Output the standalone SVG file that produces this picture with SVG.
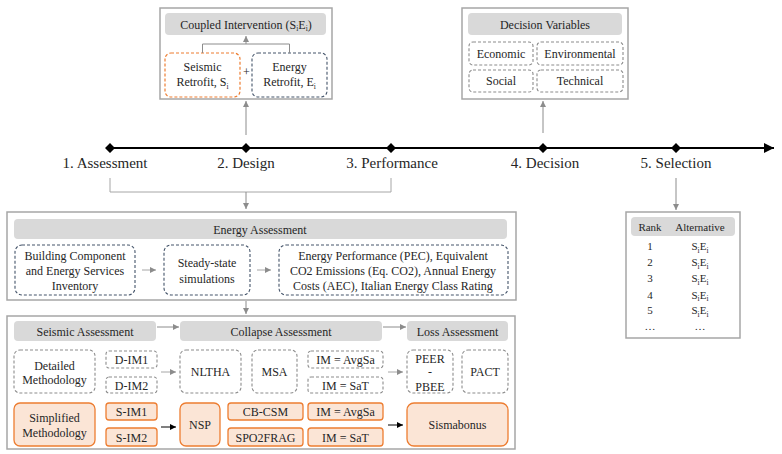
<svg xmlns="http://www.w3.org/2000/svg" width="782" height="454" viewBox="0 0 782 454">
  <style>
    text { fill: #262626; text-anchor: middle; }
    .t12 { font-size: 12px; }
    .t11 { font-size: 11px; }
    .t15 { font-size: 15px; }
    .sub { font-size: 7.5px; }
    .panel { fill: #ffffff; stroke: #a6a6a6; stroke-width: 1.5; }
    .bar { fill: #d9d9d9; stroke: none; }
    .dg { fill: #ffffff; stroke: #8c8c8c; stroke-width: 1.1; stroke-dasharray: 3 2; }
    .db { fill: #ffffff; stroke: #44546a; stroke-width: 1.1; stroke-dasharray: 3 2; }
    .do { fill: #ffffff; stroke: #ed7d31; stroke-width: 1.2; stroke-dasharray: 3 2; }
    .so { fill: #fbe5d6; stroke: #ed7d31; stroke-width: 1.3; }
    .cg { fill: none; stroke: #8c8c8c; stroke-width: 1; }
    .cgl { fill: none; stroke: #a6a6a6; stroke-width: 1; }
    .ck { fill: none; stroke: #000000; stroke-width: 1; }
  </style>
  <defs>
    <marker id="ag" markerUnits="userSpaceOnUse" markerWidth="8" markerHeight="8" refX="6" refY="3" orient="auto">
      <path d="M0,0 L6,3 L0,6 Z" fill="#8c8c8c"/>
    </marker>
    <marker id="ak" markerUnits="userSpaceOnUse" markerWidth="8" markerHeight="8" refX="6" refY="3" orient="auto">
      <path d="M0,0 L6,3 L0,6 Z" fill="#000000"/>
    </marker>
    <marker id="aline" markerUnits="userSpaceOnUse" markerWidth="14" markerHeight="14" refX="10" refY="5" orient="auto">
      <path d="M0,0 L10,5 L0,10 Z" fill="#000000"/>
    </marker>
  </defs>

  <g font-family="'Liberation Serif', 'Times New Roman', 'DejaVu Serif', serif">
  <!-- timeline -->
  <g id="timeline">
    <line x1="110" y1="148" x2="774" y2="148" stroke="#000" stroke-width="2" marker-end="url(#aline)"/>
    <path d="M110,143 L115,148 L110,153 L105,148 Z M246,143 L251,148 L246,153 L241,148 Z M391,143 L396,148 L391,153 L386,148 Z M543,143 L548,148 L543,153 L538,148 Z M676,143 L681,148 L676,153 L671,148 Z" fill="#000"/>
    <text class="t15" x="105" y="168">1. Assessment</text>
    <text class="t15" x="246" y="168">2. Design</text>
    <text class="t15" x="392" y="168">3. Performance</text>
    <text class="t15" x="545" y="168">4. Decision</text>
    <text class="t15" x="676" y="168">5. Selection</text>
  </g>

  <!-- coupled intervention -->
  <g id="coupled">
    <rect class="panel" x="160" y="8" width="172" height="91"/>
    <rect class="bar" x="165" y="13" width="161" height="22" rx="4"/>
    <text class="t12" x="246" y="28.5">Coupled Intervention (S<tspan class="sub" dy="2.5">i</tspan><tspan dy="-2.5">E</tspan><tspan class="sub" dy="2.5">i</tspan><tspan dy="-2.5">)</tspan></text>
  </g>
  <g id="seismic-retrofit">
    <rect class="do" x="165" y="53" width="75" height="44" rx="6"/>
    <text class="t12" x="202.5" y="71">Seismic</text>
    <text class="t12" x="202.5" y="86">Retrofit, S<tspan class="sub" dy="2.5">i</tspan></text>
  </g>
  <g id="energy-retrofit">
    <rect class="db" x="252" y="53" width="75" height="44" rx="6"/>
    <text class="t12" x="289.5" y="71">Energy</text>
    <text class="t12" x="289.5" y="86">Retrofit, E<tspan class="sub" dy="2.5">i</tspan></text>
  </g>
  <text class="t12" x="246.5" y="76">+</text>

  <!-- decision variables -->
  <g id="decision">
    <rect class="panel" x="462" y="8" width="166" height="91"/>
    <rect class="bar" x="468" y="13" width="154" height="22" rx="4"/>
    <text class="t12" x="545" y="28.5">Decision Variables</text>
  </g>
  <g id="economic">
    <rect class="dg" x="469" y="42" width="64" height="23" rx="4"/>
    <text class="t12" x="501" y="57.5">Economic</text>
  </g>
  <g id="environmental">
    <rect class="dg" x="537" y="42" width="86" height="23" rx="4"/>
    <text class="t12" x="580" y="57.5">Environmental</text>
  </g>
  <g id="social">
    <rect class="dg" x="469" y="70" width="64" height="22" rx="4"/>
    <text class="t12" x="501" y="85">Social</text>
  </g>
  <g id="technical">
    <rect class="dg" x="537" y="70" width="86" height="22" rx="4"/>
    <text class="t12" x="580" y="85">Technical</text>
  </g>

  <!-- ranking table -->
  <g id="ranking">
    <rect class="panel" x="626" y="212" width="114" height="126"/>
    <rect class="bar" x="631" y="217" width="104" height="19" rx="4"/>
    <text class="t11" x="650" y="230.5">Rank</text>
    <text class="t11" x="700" y="230.5">Alternative</text>
    <g class="t11">
      <text x="650" y="250">1</text>
      <text x="650" y="266">2</text>
      <text x="650" y="282">3</text>
      <text x="650" y="298.5">4</text>
      <text x="650" y="314">5</text>
      <text x="650" y="330">…</text>
      <text x="700" y="330">…</text>
      <text x="700" y="250">S<tspan class="sub" dy="2.5">i</tspan><tspan dy="-2.5">E</tspan><tspan class="sub" dy="2.5">i</tspan></text>
      <text x="700" y="266">S<tspan class="sub" dy="2.5">i</tspan><tspan dy="-2.5">E</tspan><tspan class="sub" dy="2.5">i</tspan></text>
      <text x="700" y="282">S<tspan class="sub" dy="2.5">i</tspan><tspan dy="-2.5">E</tspan><tspan class="sub" dy="2.5">i</tspan></text>
      <text x="700" y="298.5">S<tspan class="sub" dy="2.5">i</tspan><tspan dy="-2.5">E</tspan><tspan class="sub" dy="2.5">i</tspan></text>
      <text x="700" y="314">S<tspan class="sub" dy="2.5">i</tspan><tspan dy="-2.5">E</tspan><tspan class="sub" dy="2.5">i</tspan></text>
    </g>
  </g>

  <!-- energy assessment -->
  <g id="energy-assessment">
    <rect class="panel" x="7" y="212" width="509" height="88"/>
    <rect class="bar" x="14" y="219" width="493" height="20" rx="4"/>
    <text class="t12" x="260" y="233.5">Energy Assessment</text>
  </g>
  <g id="inventory">
    <rect class="db" x="15" y="245" width="120" height="50" rx="7"/>
    <text class="t12" x="75" y="259.5">Building Component</text>
    <text class="t12" x="75" y="274.5">and Energy Services</text>
    <text class="t12" x="75" y="289.5">Inventory</text>
  </g>
  <g id="simulations">
    <rect class="db" x="164" y="245" width="86" height="50" rx="7"/>
    <text class="t12" x="207" y="266.5">Steady-state</text>
    <text class="t12" x="207" y="282.5">simulations</text>
  </g>
  <g id="energy-outputs">
    <rect class="db" x="279" y="245" width="229" height="50" rx="7"/>
    <text class="t12" x="393" y="259.5">Energy Performance (PEC), Equivalent</text>
    <text class="t12" x="393" y="274.5">CO2 Emissions (Eq. CO2), Annual Energy</text>
    <text class="t12" x="393" y="289.5">Costs (AEC), Italian Energy Class Rating</text>
  </g>

  <!-- seismic / collapse / loss assessment -->
  <g id="seismic-assessment">
    <rect class="panel" x="7" y="316" width="508" height="133"/>
    <rect class="bar" x="14" y="321" width="142" height="20" rx="4"/>
    <text class="t12" x="85" y="335.5">Seismic Assessment</text>
  </g>
  <g id="collapse-assessment">
    <rect class="bar" x="180" y="321" width="202" height="20" rx="4"/>
    <text class="t12" x="281" y="335.5">Collapse Assessment</text>
  </g>
  <g id="loss-assessment">
    <rect class="bar" x="407" y="321" width="101" height="20" rx="4"/>
    <text class="t12" x="457.5" y="335.5">Loss Assessment</text>
  </g>

  <g id="detailed">
    <rect class="dg" x="14" y="350" width="81" height="43" rx="6"/>
    <text class="t12" x="54.5" y="369.5">Detailed</text>
    <text class="t12" x="54.5" y="383.5">Methodology</text>
  </g>
  <g id="d-im1">
    <rect class="dg" x="106" y="351" width="51" height="17" rx="3"/>
    <text class="t12" x="131.5" y="364">D-IM1</text>
  </g>
  <g id="d-im2">
    <rect class="dg" x="106" y="377" width="51" height="16" rx="3"/>
    <text class="t12" x="131.5" y="389.5">D-IM2</text>
  </g>
  <g id="nltha">
    <rect class="dg" x="180" y="350" width="61" height="43" rx="6"/>
    <text class="t12" x="210.5" y="376">NLTHA</text>
  </g>
  <g id="msa">
    <rect class="dg" x="252" y="350" width="45" height="43" rx="6"/>
    <text class="t12" x="274.5" y="376">MSA</text>
  </g>
  <g id="im-avgsa-d">
    <rect class="dg" x="308" y="351" width="75" height="17" rx="3"/>
    <text class="t12" x="345.5" y="364">IM = AvgSa</text>
  </g>
  <g id="im-sat-d">
    <rect class="dg" x="308" y="377" width="75" height="16" rx="3"/>
    <text class="t12" x="345.5" y="389.5">IM = SaT</text>
  </g>
  <g id="peer-pbee">
    <rect class="dg" x="407" y="350" width="46" height="43" rx="6"/>
    <text class="t12" x="430" y="362.5">PEER</text>
    <text class="t12" x="430" y="376">-</text>
    <text class="t12" x="430" y="391">PBEE</text>
  </g>
  <g id="pact">
    <rect class="dg" x="462" y="350" width="46" height="43" rx="6"/>
    <text class="t12" x="485" y="376">PACT</text>
  </g>

  <g id="simplified">
    <rect class="so" x="14" y="403" width="81" height="43" rx="6"/>
    <text class="t12" x="54.5" y="422">Simplified</text>
    <text class="t12" x="54.5" y="436.5">Methodology</text>
  </g>
  <g id="s-im1">
    <rect class="so" x="106" y="403" width="51" height="17" rx="3"/>
    <text class="t12" x="131.5" y="416">S-IM1</text>
  </g>
  <g id="s-im2">
    <rect class="so" x="106" y="428" width="51" height="18" rx="3"/>
    <text class="t12" x="131.5" y="441.5">S-IM2</text>
  </g>
  <g id="nsp">
    <rect class="so" x="180" y="403" width="40" height="43" rx="6"/>
    <text class="t12" x="200" y="429">NSP</text>
  </g>
  <g id="cb-csm">
    <rect class="so" x="228" y="403" width="75" height="17" rx="3"/>
    <text class="t12" x="265.5" y="416">CB-CSM</text>
  </g>
  <g id="spo2frag">
    <rect class="so" x="228" y="428" width="75" height="18" rx="3"/>
    <text class="t12" x="265.5" y="441.5">SPO2FRAG</text>
  </g>
  <g id="im-avgsa-s">
    <rect class="so" x="308" y="403" width="75" height="17" rx="3"/>
    <text class="t12" x="345.5" y="416">IM = AvgSa</text>
  </g>
  <g id="im-sat-s">
    <rect class="so" x="308" y="428" width="75" height="18" rx="3"/>
    <text class="t12" x="345.5" y="441.5">IM = SaT</text>
  </g>
  <g id="sismabonus">
    <rect class="so" x="407" y="403" width="101" height="43" rx="7"/>
    <text class="t12" x="457.5" y="429">Sismabonus</text>
  </g>
  </g>

  <!-- connectors -->
  <g id="connectors">
    <path class="cg" d="M202.5,53 V44 H289.5 V53"/>
    <line class="cg" x1="246" y1="44" x2="246" y2="36" marker-end="url(#ag)"/>
    <line class="cg" x1="246" y1="135" x2="246" y2="101" marker-end="url(#ag)"/>
    <line class="cg" x1="543" y1="133" x2="543" y2="101" marker-end="url(#ag)"/>
    <path class="cgl" d="M110,178 V192 H391 V178"/>
    <line class="cg" x1="246" y1="192" x2="246" y2="209" marker-end="url(#ag)"/>
    <line class="cg" x1="676" y1="178" x2="676" y2="210" marker-end="url(#ag)"/>
    <line class="cgl" x1="142" y1="270" x2="156" y2="270" marker-end="url(#ag)"/>
    <line class="cgl" x1="257" y1="270" x2="271" y2="270" marker-end="url(#ag)"/>
    <line class="cg" x1="246" y1="301" x2="246" y2="314" marker-end="url(#ag)"/>
    <line class="cg" x1="157" y1="327" x2="179" y2="327" marker-end="url(#ag)"/>
    <line class="cg" x1="383" y1="327" x2="406" y2="327" marker-end="url(#ag)"/>
    <line class="cgl" x1="161" y1="372" x2="176" y2="372" marker-end="url(#ag)"/>
    <line class="cgl" x1="388" y1="372" x2="403" y2="372" marker-end="url(#ag)"/>
    <line class="ck" x1="161" y1="427" x2="176" y2="427" marker-end="url(#ak)"/>
    <line class="ck" x1="388" y1="425" x2="403" y2="425" marker-end="url(#ak)"/>
  </g>
</svg>
